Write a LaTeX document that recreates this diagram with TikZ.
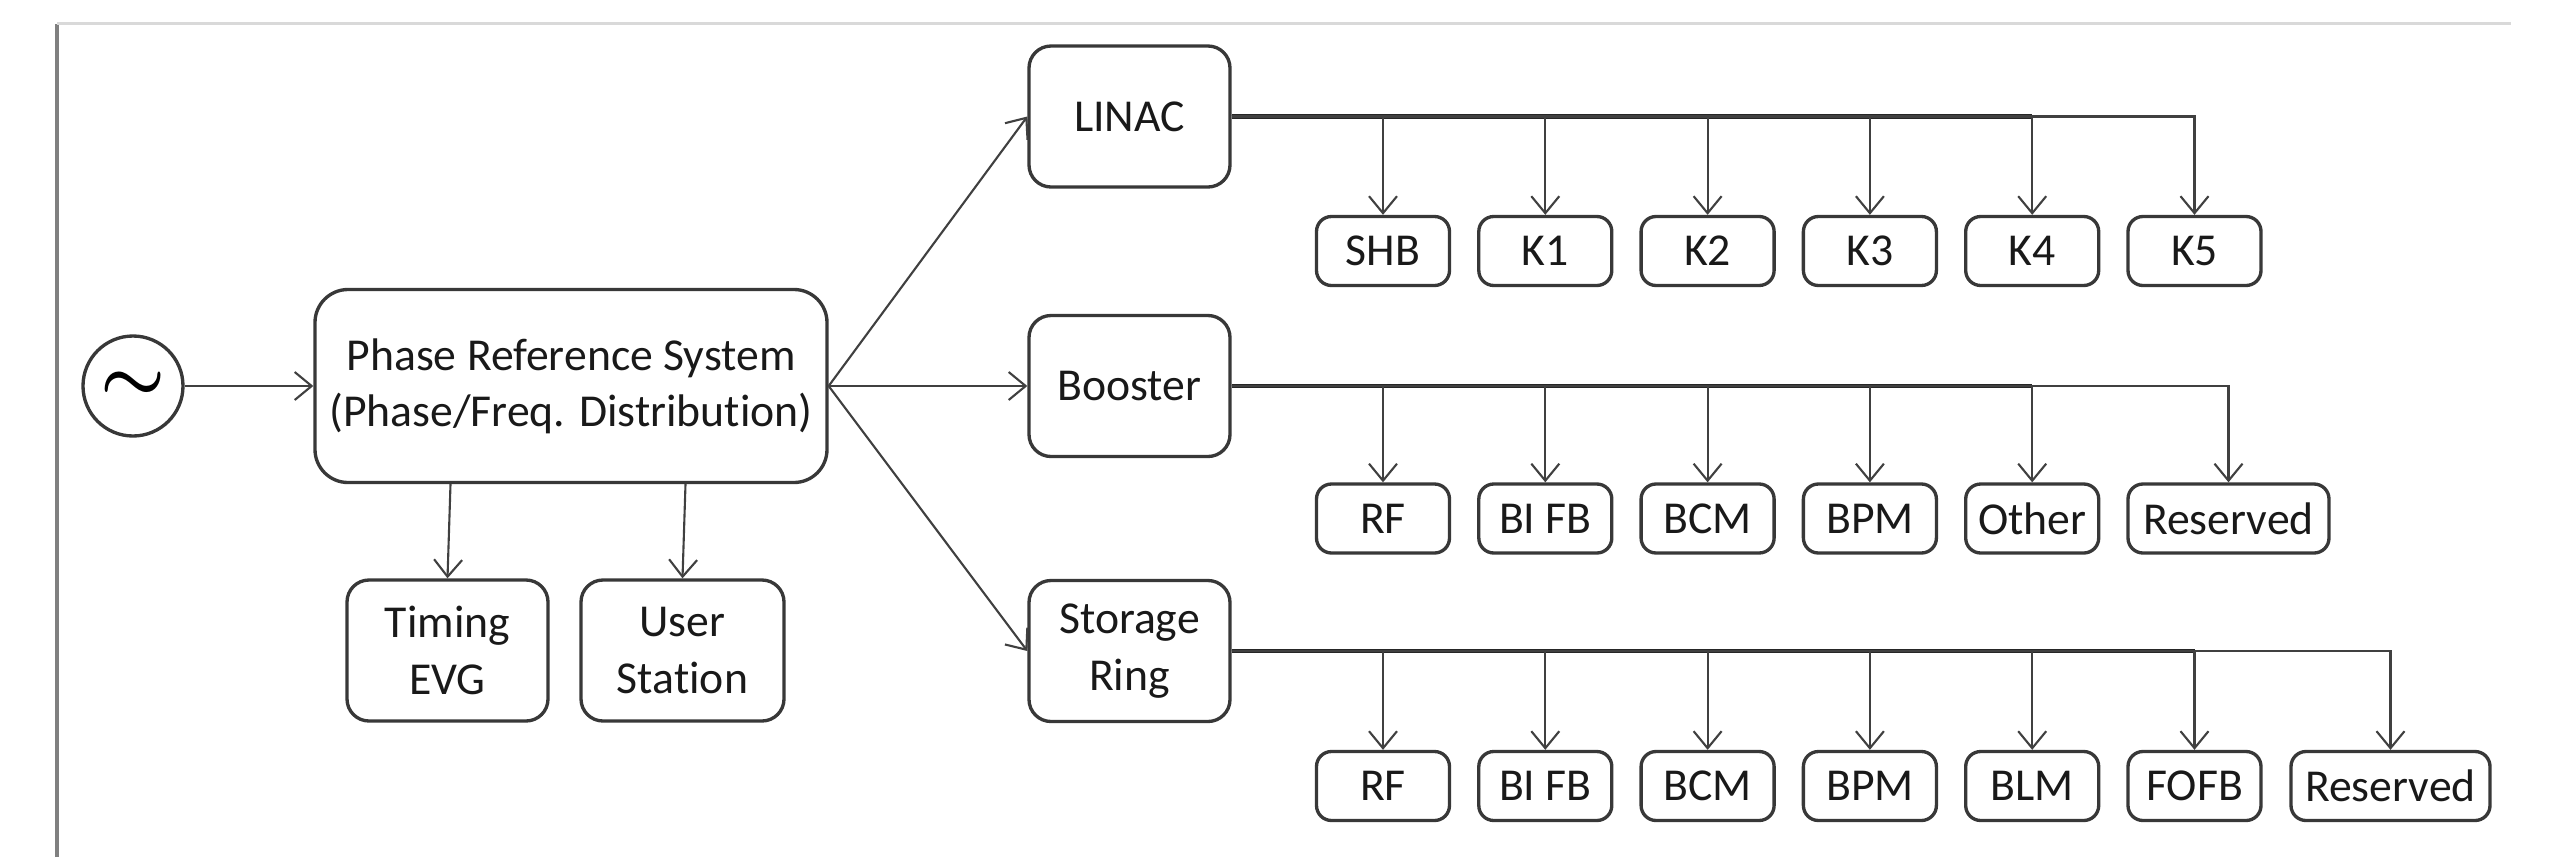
\documentclass[tikz,border=0pt]{standalone}
\usepackage{bm}
\usepackage{fontspec}
\setmainfont{Carlito}[Ligatures=NoCommon]
\usetikzlibrary{arrows.meta}

\tikzset{
    blk/.style={draw=black!78, line width=0.95pt, rounded corners=0.22cm, align=center, inner sep=0pt, text=black!90},
    leaf/.style={blk, minimum width=1.33cm, minimum height=0.69cm, rounded corners=0.15cm},
    feed/.style={draw=black!75, line width=0.6pt, -{Straight Barb[length=1.7mm,width=2.8mm]}},
    bus/.style={draw=black!85, line width=1.3pt}
}

\begin{document}
\begin{tikzpicture}[font=\fontsize{13}{16}\selectfont]
    \useasboundingbox (0,0) rectangle (25.54,-8.57);
    
    % page edge
    \draw[black!50, line width=1.2pt] (0.57,-8.57) -- (0.57,-0.235);
    \draw[black!15, line width=0.8pt] (0.57,-0.235) -- (25.11,-0.235);
    
    \node[circle, draw=black!78, line width=0.95pt, minimum size=1.0cm, inner sep=0pt] (osc) at (1.33,-3.86) {\fontsize{22}{22}\selectfont$\bm{\sim}$};
    \node[blk, minimum width=5.12cm, minimum height=1.93cm, rounded corners=0.33cm] (prs) at (5.71,-3.86) {Phase Reference System\\(Phase/Freq. Distribution)};
    \node[blk, minimum width=2.01cm, minimum height=1.41cm] (evg) at (4.475,-6.505) {Timing\\EVG};
    \node[blk, minimum width=2.03cm, minimum height=1.41cm] (usr) at (6.825,-6.505) {User\\Station};
    
    \node[blk, minimum width=2.01cm, minimum height=1.41cm] (linac) at (11.295,-1.165) {LINAC};
    \node[blk, minimum width=2.01cm, minimum height=1.41cm] (boost) at (11.295,-3.86) {Booster};
    \node[blk, minimum width=2.01cm, minimum height=1.41cm] (ring) at (11.295,-6.51) {Storage\\Ring};
    
    % linac row
    \node[leaf] (shb) at (13.83,-2.51) {SHB};
    \node[leaf] (k1) at (15.453,-2.51) {K1};
    \node[leaf] (k2) at (17.076,-2.51) {K2};
    \node[leaf] (k3) at (18.699,-2.51) {K3};
    \node[leaf] (k4) at (20.322,-2.51) {K4};
    \node[leaf] (k5) at (21.945,-2.51) {K5};
    
    % booster row
    \node[leaf] (brf) at (13.83,-5.185) {RF};
    \node[leaf] (bbi) at (15.453,-5.185) {BI FB};
    \node[leaf] (bbcm) at (17.076,-5.185) {BCM};
    \node[leaf] (bbpm) at (18.699,-5.185) {BPM};
    \node[leaf] (both) at (20.322,-5.185) {Other};
    \node[leaf, minimum width=2.01cm] (bres) at (22.285,-5.185) {Reserved};
    
    % storage ring row
    \node[leaf] (srf) at (13.83,-7.86) {RF};
    \node[leaf] (sbi) at (15.453,-7.86) {BI FB};
    \node[leaf] (sbcm) at (17.076,-7.86) {BCM};
    \node[leaf] (sbpm) at (18.699,-7.86) {BPM};
    \node[leaf] (sblm) at (20.322,-7.86) {BLM};
    \node[leaf] (sfofb) at (21.945,-7.86) {FOFB};
    \node[leaf, minimum width=1.99cm] (sres) at (23.905,-7.86) {Reserved};
    
    \draw[feed] (osc) -- (prs);
    \draw[feed] (prs.east) -- (linac.west);
    \draw[feed] (prs.east) -- (boost.west);
    \draw[feed] (prs.east) -- (ring.west);
    \draw[feed] ([xshift=0.03cm]evg.north |- prs.south) -- (evg.north);
    \draw[feed] ([xshift=0.03cm]usr.north |- prs.south) -- (usr.north);
    
    \draw[bus] (linac.east) -- (k4.north |- linac.east);
    \draw[feed] (linac.east) -| (shb.north);
    \draw[feed] (linac.east) -| (k1.north);
    \draw[feed] (linac.east) -| (k2.north);
    \draw[feed] (linac.east) -| (k3.north);
    \draw[feed] (linac.east) -| (k4.north);
    \draw[feed] (linac.east) -| (k5.north);
    
    \draw[bus] (boost.east) -- (both.north |- boost.east);
    \draw[feed] (boost.east) -| (brf.north);
    \draw[feed] (boost.east) -| (bbi.north);
    \draw[feed] (boost.east) -| (bbcm.north);
    \draw[feed] (boost.east) -| (bbpm.north);
    \draw[feed] (boost.east) -| (both.north);
    \draw[feed] (boost.east) -| (bres.north);
    
    \draw[bus] (ring.east) -- (sfofb.north |- ring.east);
    \draw[feed] (ring.east) -| (srf.north);
    \draw[feed] (ring.east) -| (sbi.north);
    \draw[feed] (ring.east) -| (sbcm.north);
    \draw[feed] (ring.east) -| (sbpm.north);
    \draw[feed] (ring.east) -| (sblm.north);
    \draw[feed] (ring.east) -| (sfofb.north);
    \draw[feed] (ring.east) -| (sres.north);
    
\end{tikzpicture}
\end{document}
